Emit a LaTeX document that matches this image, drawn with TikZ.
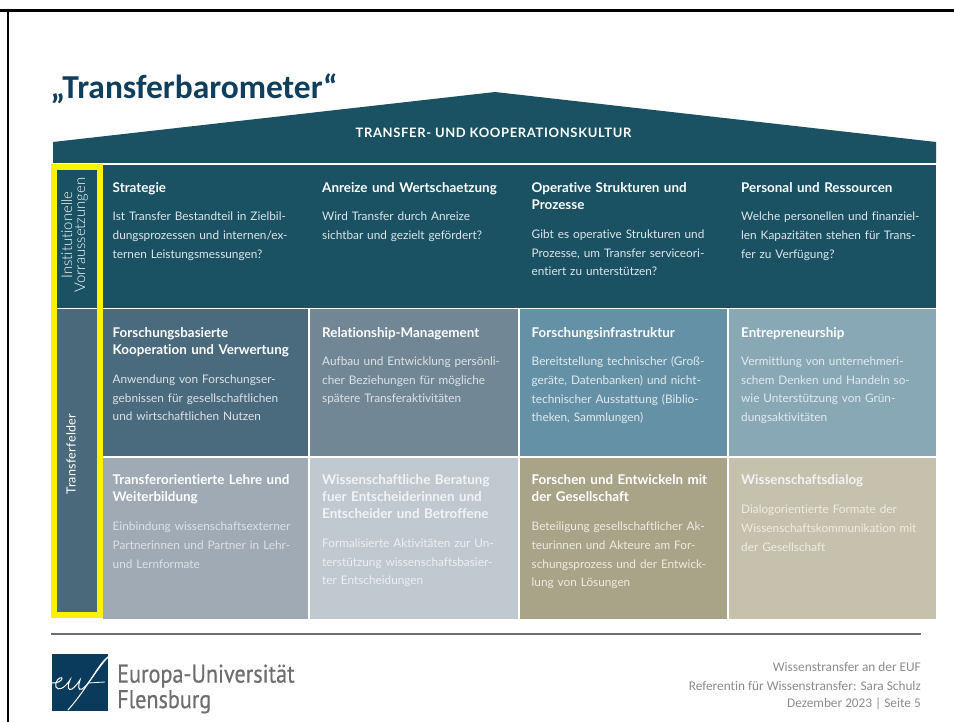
\documentclass[tikz,border=0pt]{standalone}
\usepackage{fontspec}
\setmainfont{Lato}[Ligatures=NoCommon]
\newfontfamily\carl{Carlito}[Ligatures=NoCommon]
\newfontfamily\latol{Lato Light}[Ligatures=NoCommon]
\newfontfamily\ptsans{PT Sans}[FakeStretch=0.87,FakeBold=0.5]
\definecolor{dark}{HTML}{1A5163}
\definecolor{titlec}{HTML}{0F3F5C}
\definecolor{logoc}{HTML}{0A3A5C}
\definecolor{greyt}{HTML}{6E6E6E}
\definecolor{foot}{HTML}{8C8C8C}
\definecolor{sidec}{HTML}{4A6A7C}
\definecolor{c5}{HTML}{4A6A7D}
\definecolor{c6}{HTML}{728795}
\definecolor{c7}{HTML}{6491A6}
\definecolor{c8}{HTML}{89A8B6}
\definecolor{c9}{HTML}{A0AAB4}
\definecolor{c10}{HTML}{C1C9D0}
\definecolor{c11}{HTML}{A9A388}
\definecolor{c12}{HTML}{C6C1AC}
\definecolor{t9}{HTML}{DDE1E5}
\definecolor{t10}{HTML}{EDEFF1}
\definecolor{t12}{HTML}{EEECE3}
\definecolor{t11}{HTML}{EDEBE2}
\definecolor{t7}{HTML}{E2EAEE}
\definecolor{t5}{HTML}{DDE3E7}
\definecolor{t1}{HTML}{DDE6E9}
\definecolor{h10}{HTML}{F2F3F5}
\tikzset{
 x=1pt,y=-1pt,
 head/.style={anchor=north west,align=left,text=white,font=\fontsize{13.4}{17}\selectfont\bfseries,inner sep=0pt,text width=195pt},
 body/.style={anchor=north west,align=left,font=\fontsize{11.8}{18.7}\selectfont,inner sep=0pt,text width=205pt},
 side/.style={rotate=90,align=center,text=white,inner sep=0pt},
 footn/.style={anchor=east,text=foot,font=\carl\fontsize{13.3}{15}\selectfont,inner sep=0pt},
}
\begin{document}
\begin{tikzpicture}
\useasboundingbox (0,0) rectangle (954,722);
\fill[white] (0,0) rectangle (954,722);
% frame
\fill[black] (0,9) rectangle (954,12);
\fill[black] (6.5,9) rectangle (9,722);
\node[anchor=west,inner sep=0pt,text=titlec,font=\carl\bfseries\fontsize{33.5}{38}\selectfont] (title) at (50.5,89) {„Transferbarometer“};
% roof
\fill[dark] (53,142) -- (495,92) -- (936,142) -- (936,163) -- (53,163) -- cycle;
\node[text=white,font=\fontsize{13}{14}\selectfont\bfseries\addfontfeatures{LetterSpace=5},inner sep=0pt] (roof) at (493.5,133) {TRANSFER- UND KOOPERATIONSKULTUR};
% rows
\fill[dark] (57,165) rectangle (936,308);
% row 2
\fill[c5] (103,309.5) rectangle (308,456);
\fill[c6] (309.5,309.5) rectangle (518,456);
\fill[c7] (519.5,309.5) rectangle (727,456);
\fill[c8] (728.5,309.5) rectangle (936,456);
% row 3
\fill[c9] (103,457.5) rectangle (308,619);
\fill[c10] (309.5,457.5) rectangle (518,619);
\fill[c11] (519.5,457.5) rectangle (727,619);
\fill[c12] (728.5,457.5) rectangle (936,619);
% side column
\fill[dark] (57,170) rectangle (97,308);
\fill[sidec] (57,309.5) rectangle (97,612);
\draw[yellow,line width=6pt] (54,167) rectangle (100,615);
\node[side,font=\latol\fontsize{14.9}{13}\selectfont] (s1) at (74.5,235) {Institutionelle\\Vorraussetzungen};
\node[side,font=\fontsize{12.6}{15}\selectfont\addfontfeatures{LetterSpace=2}] (s2) at (71,454) {Transferfelder};
% row 1 text
\node[head] (h1) at (112.5,182) {Strategie};
\node[body,text=t1] (b1) at (112.5,212) {Ist Transfer Bestandteil in Zielbil-\\dungsprozessen und internen/ex-\\ternen Leistungsmessungen?};
\node[head] (h2) at (322,182) {Anreize und Wertschaetzung};
\node[body,text=t1] (b2) at (322,212) {Wird Transfer durch Anreize\\sichtbar und gezielt gefördert?};
\node[head] (h3) at (531.5,182) {Operative Strukturen und\\Prozesse};
\node[body,text=t1] (b3) at (531.5,229.5) {Gibt es operative Strukturen und\\Prozesse, um Transfer serviceori-\\entiert zu unterstützen?};
\node[head] (h4) at (741,182) {Personal und Ressourcen};
\node[body,text=t1] (b4) at (741,212) {Welche personellen und finanziel-\\len Kapazitäten stehen für Trans-\\fer zu Verfügung?};
% row 2 text
\node[head] (h5) at (112.5,327) {Forschungsbasierte\\Kooperation und Verwertung};
\node[body,text=t5] (b5) at (112.5,374.5) {Anwendung von Forschungser-\\gebnissen für gesellschaftlichen\\und wirtschaftlichen Nutzen};
\node[head] (h6) at (322,327) {Relationship-Management};
\node[body,text=t5] (b6) at (322,356.5) {Aufbau und Entwicklung persönli-\\cher Beziehungen für mögliche\\spätere Transferaktivitäten};
\node[head] (h7) at (531.5,327) {Forschungsinfrastruktur};
\node[body,text=t7] (b7) at (531.5,356.5) {Bereitstellung technischer (Groß-\\geräte, Datenbanken) und nicht-\\technischer Ausstattung (Biblio-\\theken, Sammlungen)};
\node[head] (h8) at (741,327) {Entrepreneurship};
\node[body,text=t7] (b8) at (741,356.5) {Vermittlung von unternehmeri-\\schem Denken und Handeln so-\\wie Unterstützung von Grün-\\dungsaktivitäten};
% row 3 text
\node[head] (h9) at (112.5,474) {Transferorientierte Lehre und\\Weiterbildung};
\node[body,text=t9] (b9) at (112.5,522) {Einbindung wissenschaftsexterner\\Partnerinnen und Partner in Lehr-\\und Lernformate};
\node[head,text=h10] (h10) at (322,474) {Wissenschaftliche Beratung\\fuer Entscheiderinnen und\\Entscheider und Betroffene};
\node[body,text=t10] (b10) at (322,538.5) {Formalisierte Aktivitäten zur Un-\\terstützung wissenschaftsbasier-\\ter Entscheidungen};
\node[head] (h11) at (531.5,474) {Forschen und Entwickeln mit\\der Gesellschaft};
\node[body,text=t11] (b11) at (531.5,522) {Beteiligung gesellschaftlicher Ak-\\teurinnen und Akteure am For-\\schungsprozess und der Entwick-\\lung von Lösungen};
\node[head,text=h10] (h12) at (741,474) {Wissenschaftsdialog};
\node[body,text=t12] (b12) at (741,505) {Dialogorientierte Formate der\\Wissenschaftskommunikation mit\\der Gesellschaft};
% footer rule
\fill[greyt] (51,633) rectangle (921,634.5);
% logo
\fill[logoc] (52,654) rectangle (108,710.5);
\draw[white,line width=1pt,line cap=round] (52,683) .. controls (57,684) and (63,680) .. (62,678) .. controls (60,676) and (54,682) .. (56,687) .. controls (58,691) and (64,689) .. (70,680) .. controls (67,687) and (68,691) .. (72,689) .. controls (75,687) and (78,683) .. (80,680) .. controls (78,686) and (78,691) .. (82,689) .. controls (88,686) and (96,670) .. (108,657);
\draw[white,line width=1pt,line cap=round] (108,657) .. controls (98,664) and (90,685) .. (68,710);
\draw[white,line width=.8pt] (88,683) -- (105,682);
\node[anchor=west,inner sep=0pt,text=greyt,font=\ptsans\fontsize{25.5}{25.5}\selectfont,align=left] (logo) at (117,689) {Europa-Universität\\Flensburg};
% footer
\node[footn] (f1) at (921,667) {Wissenstransfer an der EUF};
\node[footn] (f2) at (921,686) {Referentin für Wissenstransfer: Sara Schulz};
\node[footn] (f3) at (921,704) {Dezember 2023 | Seite 5};
\end{tikzpicture}
\end{document}
